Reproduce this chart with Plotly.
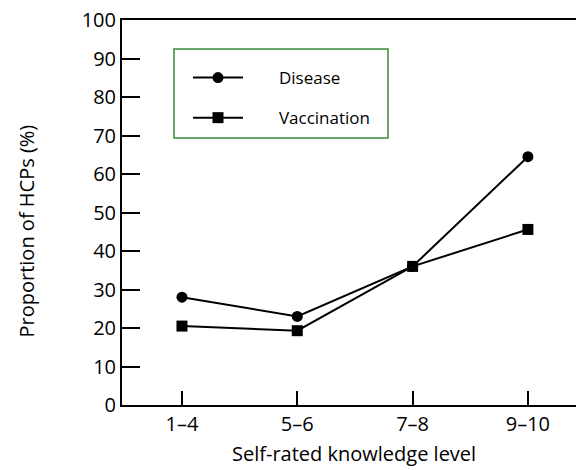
import plotly.graph_objects as go

categories = ["1\u20134", "5\u20136", "7\u20138", "9\u201310"]
disease = [28, 23, 36, 64.5]
vaccination = [20.5, 19.3, 36, 45.6]
y_ticks = [0, 10, 20, 30, 40, 50, 60, 70, 80, 90, 100]
x_title = "Self-rated knowledge level"
y_title = "Proportion of HCPs (%)"

W, H = 576, 470
L, R, T, B = 122, 0, 20, 65
pw, ph = W - L - R, H - T - B

FONT = "Open Sans"
x_idx = list(range(len(categories)))

def px_x(p):
    return (p - L) / pw

def px_y(p):
    return (H - B - p) / ph

fig = go.Figure()
fig.add_trace(go.Scatter(
    x=x_idx, y=disease, mode="lines+markers", name="\u00a0" * 7 + "Disease",
    legendgroup="a",
    line=dict(color="black", width=2),
    marker=dict(symbol="circle", size=11, color="black"),
))
fig.add_trace(go.Scatter(
    x=x_idx, y=vaccination, mode="lines+markers", name="\u00a0" * 7 + "Vaccination",
    legendgroup="b",
    line=dict(color="black", width=2),
    marker=dict(symbol="square", size=11, color="black"),
))

fig.add_shape(type="rect", xref="paper", yref="paper",
              x0=px_x(174), x1=px_x(388), y0=px_y(138), y1=px_y(49),
              line=dict(color="#3a8a3a", width=1.5), fillcolor="rgba(0,0,0,0)")

fig.add_annotation(text=x_title, xref="paper", yref="paper",
                   x=px_x(354), y=px_y(453), xanchor="center", yanchor="middle",
                   showarrow=False, borderpad=0,
                   font=dict(family=FONT, size=20, color="black"))
fig.add_annotation(text=y_title, xref="paper", yref="paper", textangle=-90,
                   x=px_x(26), y=px_y(231.5), xanchor="center", yanchor="middle",
                   showarrow=False, borderpad=0,
                   font=dict(family=FONT, size=20, color="black"))

fig.update_layout(
    width=W, height=H,
    margin=dict(l=L, r=R, t=T, b=B, autoexpand=False),
    paper_bgcolor="white", plot_bgcolor="white",
    font=dict(family=FONT, color="black", size=16),
    showlegend=True,
    legend=dict(
        x=px_x(188), y=px_y(60), xanchor="left", yanchor="top",
        bgcolor="rgba(0,0,0,0)", borderwidth=0,
        itemwidth=50, traceorder="grouped", tracegroupgap=15,
        font=dict(family=FONT, size=17, color="black"),
    ),
    xaxis=dict(
        range=[-0.52, 3.417], tickmode="array", tickvals=x_idx, ticktext=categories,
        showline=True, linecolor="black", linewidth=2, mirror=True,
        ticks="inside", ticklen=14, tickwidth=2, tickcolor="black",
        showgrid=False, zeroline=False, automargin=False,
        tickfont=dict(family=FONT, size=20),
    ),
    yaxis=dict(
        range=[0, 100], tickmode="array", tickvals=y_ticks,
        showline=True, linecolor="black", linewidth=2,
        ticks="inside", ticklen=18, tickwidth=2, tickcolor="black",
        showgrid=False, zeroline=False, automargin=False,
        tickfont=dict(family=FONT, size=20),
    ),
)

fig.write_html("out.html", config={"displayModeBar": False},
               post_script="document.body.style.margin='0px';")
